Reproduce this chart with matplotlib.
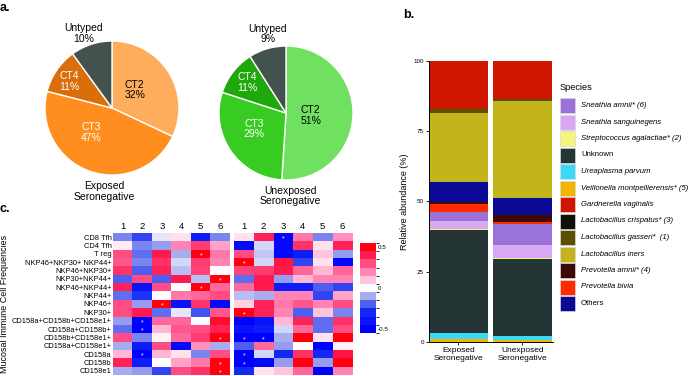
import matplotlib
matplotlib.use("Agg")
import matplotlib.pyplot as plt
import numpy as np
from matplotlib.colors import LinearSegmentedColormap, Normalize, BoundaryNorm
from matplotlib.patches import Rectangle
import matplotlib.cm as cm

plt.rcParams['font.family'] = ['Liberation Sans', 'DejaVu Sans']

# ---------------- data ----------------
pie_labels = ["CT2", "CT3", "CT4", "Untyped"]
exposed_pct = [32, 47, 11, 10]
unexposed_pct = [51, 29, 11, 9]
exposed_colors = ["#FFAC5C", "#FF8E1E", "#DA6E0A", "#44524F"]
unexposed_colors = ["#6FE060", "#38CB22", "#1FA80C", "#44524F"]

groups = ["Exposed\nSeronegative", "Unexposed\nSeronegative"]
# stacked bottom -> top
stack_species = ["Veillonella montpellierensis* (5)", "Ureaplasma parvum", "Unknown",
                 "Streptococcus agalactiae* (2)", "Sneathia sanguinegens", "Sneathia amnii* (6)",
                 "Prevotella bivia", "Prevotella amnii* (4)", "Others", "Lactobacillus iners",
                 "Lactobacillus gasseri*  (1)", "Lactobacillus crispatus* (3)", "Gardnerella vaginalis"]
abund_exposed = [0.9, 2.4, 36.5, 0.3, 2.9, 3.2, 2.8, 0.8, 7.1, 24.5, 1.4, 0.2, 17.0]
abund_unexposed = [0.7, 1.6, 27.2, 0.5, 4.4, 7.5, 0.7, 2.5, 6.3, 34.3, 0.6, 0.1, 13.6]
species_colors = {
    "Sneathia amnii* (6)": "#9B72D9",
    "Sneathia sanguinegens": "#D9A8F5",
    "Streptococcus agalactiae* (2)": "#F5F57A",
    "Unknown": "#253535",
    "Ureaplasma parvum": "#3AD9F5",
    "Veillonella montpellierensis* (5)": "#F5B400",
    "Gardnerella vaginalis": "#D01500",
    "Lactobacillus crispatus* (3)": "#101008",
    "Lactobacillus gasseri*  (1)": "#5A5000",
    "Lactobacillus iners": "#C2B41A",
    "Prevotella amnii* (4)": "#3D0A05",
    "Prevotella bivia": "#FF2A00",
    "Others": "#0A0A96",
}
legend_order = ["Sneathia amnii* (6)", "Sneathia sanguinegens", "Streptococcus agalactiae* (2)",
                "Unknown", "Ureaplasma parvum", "Veillonella montpellierensis* (5)",
                "Gardnerella vaginalis", "Lactobacillus crispatus* (3)", "Lactobacillus gasseri*  (1)",
                "Lactobacillus iners", "Prevotella amnii* (4)", "Prevotella bivia", "Others"]

cell_types = ["CD8 Tfh", "CD4 Tfh", "T reg", "NKP46+NKP30+ NKP44+", "NKP46+NKP30+",
              "NKP30+NKP44+", "NKP46+NKP44+", "NKP44+", "NKP46+", "NKP30+",
              "CD158a+CD158b+CD158e1+", "CD158a+CD158b+", "CD158b+CD158e1+",
              "CD158a+CD158e1+", "CD158a", "CD158b", "CD158e1"]
col_labels = ["1", "2", "3", "4", "5", "6"]
corr_exposed = [
    [-0.15, -0.25, -0.03, 0.05, -0.35, -0.15],
    [0.03, -0.15, -0.12, 0.20, 0.33, 0.15],
    [0.30, -0.18, 0.40, -0.10, 0.50, 0.22],
    [0.28, -0.15, 0.35, -0.05, 0.33, 0.20],
    [0.35, -0.20, 0.38, -0.08, 0.32, 0.00],
    [-0.20, 0.30, -0.20, 0.40, -0.08, 0.50],
    [0.38, -0.40, 0.30, 0.00, 0.50, 0.25],
    [-0.18, -0.28, 0.00, 0.22, 0.25, 0.30],
    [0.30, -0.12, 0.50, -0.40, 0.35, -0.45],
    [0.30, 0.40, -0.18, -0.03, -0.22, 0.28],
    [-0.12, -0.50, 0.25, 0.25, 0.00, 0.45],
    [-0.18, -0.50, 0.12, 0.28, 0.30, 0.38],
    [0.30, -0.15, 0.02, 0.25, 0.33, 0.50],
    [-0.10, -0.35, 0.30, -0.45, 0.18, -0.10],
    [0.12, -0.50, 0.12, 0.05, -0.15, 0.30],
    [0.38, -0.35, 0.00, 0.15, 0.22, 0.50],
    [-0.10, -0.12, -0.25, 0.30, 0.35, 0.50],
]
corr_unexposed = [
    [0.05, 0.38, -0.45, 0.22, -0.15, 0.18],
    [-0.45, -0.05, -0.45, 0.35, 0.05, 0.38],
    [0.30, -0.07, -0.45, -0.35, 0.10, -0.12],
    [0.50, -0.05, 0.42, -0.25, 0.05, -0.45],
    [0.32, 0.33, 0.40, 0.25, 0.12, 0.25],
    [-0.18, 0.40, -0.12, 0.12, 0.20, 0.20],
    [0.25, 0.40, -0.35, -0.35, -0.20, -0.25],
    [-0.08, -0.10, 0.20, 0.20, -0.25, 0.15],
    [0.08, 0.38, 0.22, 0.28, 0.20, 0.30],
    [0.50, 0.38, 0.20, -0.20, 0.10, -0.15],
    [-0.50, -0.40, 0.12, 0.38, -0.18, 0.35],
    [-0.40, -0.35, -0.05, 0.25, -0.18, 0.30],
    [-0.50, -0.50, -0.10, 0.50, 0.05, 0.50],
    [-0.20, 0.25, -0.12, 0.00, -0.50, 0.02],
    [-0.50, -0.05, -0.30, 0.35, -0.30, 0.42],
    [-0.50, -0.45, -0.12, 0.50, -0.12, 0.50],
    [-0.30, 0.05, 0.10, 0.25, -0.50, 0.20],
]
stars_exposed = [(2, 4), (5, 5), (6, 4), (8, 2), (10, 1), (11, 1), (12, 5), (14, 1), (15, 5), (16, 5)]
stars_unexposed = [(0, 2), (3, 0), (9, 0), (12, 0), (12, 1), (14, 0), (15, 0)]

# ---------------- figure ----------------
W, H = 696, 376
fig = plt.figure(figsize=(W / 100, H / 100), dpi=100)

def fbox(x0, y0, x1, y1):
    return [x0 / W, 1 - y1 / H, (x1 - x0) / W, (y1 - y0) / H]

# panel labels
fig.text(0 / W, 1 - 8 / H, "a.", fontsize=9, fontweight="bold", va="center", ha="left")
fig.text(403 / W, 1 - 15 / H, "b.", fontsize=9, fontweight="bold", va="center", ha="left")
fig.text(0 / W, 1 - 209 / H, "c.", fontsize=9, fontweight="bold", va="center", ha="left")

# ---------------- pies ----------------
def draw_pie(box, vals, colors, pos, title, title_pos):
    ax = fig.add_axes(box)
    ax.pie(vals, colors=colors, startangle=90, counterclock=False,
           wedgeprops=dict(edgecolor="white", linewidth=1.0))
    ax.set_xlim(-1, 1); ax.set_ylim(-1, 1)
    txtcol = ["black", "white", "white", "black"]
    for lab, v, (dx, dy), c in zip(pie_labels, vals, pos, txtcol):
        ax.text(dx, dy, f"{lab}\n{v}%", ha="center", va="center", fontsize=7.5,
                color=c, linespacing=1.1)
    ax.text(title_pos[0], title_pos[1], title, ha="center", va="center", fontsize=7.5,
            linespacing=1.1)

draw_pie(fbox(45, 41, 179, 175), exposed_pct, exposed_colors,
         [(0.34, 0.27), (-0.31, -0.36), (-0.64, 0.40), (-0.43, 1.11)],
         "Exposed\nSeronegative", (-0.12, -1.25))
draw_pie(fbox(219, 46, 353, 180), unexposed_pct, unexposed_colors,
         [(0.37, -0.04), (-0.48, -0.24), (-0.58, 0.46), (-0.27, 1.18)],
         "Unexposed\nSeronegative", (0.07, -1.24))

# ---------------- stacked bars ----------------
axb = fig.add_axes(fbox(429, 61, 553, 342))
x = np.arange(len(groups))
bottom = np.zeros(len(groups))
for sp, a, b in zip(stack_species, abund_exposed, abund_unexposed):
    vals = np.array([a, b])
    axb.bar(x, vals, bottom=bottom, width=0.92, color=species_colors[sp], edgecolor="none")
    bottom += vals
axb.set_xlim(-0.46, 1.48)
axb.set_ylim(0, 100)
axb.set_yticks([0, 25, 50, 75, 100])
axb.set_yticklabels(["0", "25", "50", "75", "100"], fontsize=4.5)
axb.set_xticks(x)
axb.set_xticklabels(groups, fontsize=6, linespacing=1.15)
axb.tick_params(axis="both", length=2, width=0.6, pad=1.5)
axb.spines["top"].set_visible(False)
axb.spines["right"].set_visible(False)
axb.spines["left"].set_linewidth(0.7)
axb.spines["bottom"].set_linewidth(0.7)
axb.set_ylabel("Relative abundance (%)", fontsize=6.5, labelpad=3)

# legend (manual layout, pixel units inside its own axes)
axg = fig.add_axes(fbox(555, 75, 696, 320))
axg.set_xlim(0, 141); axg.set_ylim(245, 0); axg.axis("off")
axg.text(5, 12, "Species", fontsize=6.6, va="center", ha="left")
for i, sp in enumerate(legend_order):
    top = 23 + 16.5 * i
    axg.add_patch(Rectangle((5, top), 15, 15, facecolor=species_colors[sp],
                            edgecolor="#d8d8d8", linewidth=0.5))
    style = "normal" if sp in ("Unknown", "Others") else "italic"
    axg.text(26, top + 7.5, sp, fontsize=5.6, style=style, va="center", ha="left")

# ---------------- heatmaps ----------------
cmap = LinearSegmentedColormap.from_list("corr", [
    (0.0, "#0000FF"), (0.2, "#1428F5"), (0.3, "#5060F0"), (0.4, "#A8ADF0"),
    (0.5, "#FFFFFF"), (0.6, "#FFC4DD"), (0.7, "#FF85B5"), (0.8, "#FF4C82"),
    (0.9, "#FF1A50"), (1.0, "#FF0010")])
norm = Normalize(-0.5, 0.5)

def draw_heat(box, data, stars, show_rows):
    ax = fig.add_axes(box)
    ax.imshow(np.array(data), cmap=cmap, norm=norm, aspect="auto", interpolation="nearest")
    ax.set_xticks(range(len(col_labels)))
    ax.set_xticklabels(col_labels, fontsize=6.8)
    ax.xaxis.tick_top()
    ax.tick_params(axis="x", length=0, pad=1.5)
    if show_rows:
        ax.set_yticks(range(len(cell_types)))
        ax.set_yticklabels(cell_types, fontsize=5.4)
        ax.tick_params(axis="y", length=0, pad=1)
    else:
        ax.set_yticks([])
    for s in ax.spines.values():
        s.set_visible(False)
    for r, c in stars:
        ax.text(c, r + 0.25, "*", ha="center", va="center", color="white", fontsize=5)
    return ax

axl = draw_heat(fbox(113, 233, 230, 375), corr_exposed, stars_exposed, True)
axl.set_ylabel("Mucosal Immune Cell Frequencies", fontsize=6.4, labelpad=2)
draw_heat(fbox(234, 233, 352, 375), corr_unexposed, stars_unexposed, False)

# colorbar (discrete)
cax = fig.add_axes(fbox(360, 243, 376, 333))
bounds = np.linspace(-0.55, 0.55, 12)
sm = cm.ScalarMappable(cmap=cmap, norm=BoundaryNorm(bounds, 256))
cb = fig.colorbar(sm, cax=cax, boundaries=bounds, ticks=[-0.5, 0, 0.5])
cb.outline.set_visible(False)
cb.ax.tick_params(length=0, labelsize=4.5, pad=1)
cb.ax.set_yticklabels(["-0.5", "0", "0.5"])

fig.savefig("out.png", dpi=100)
